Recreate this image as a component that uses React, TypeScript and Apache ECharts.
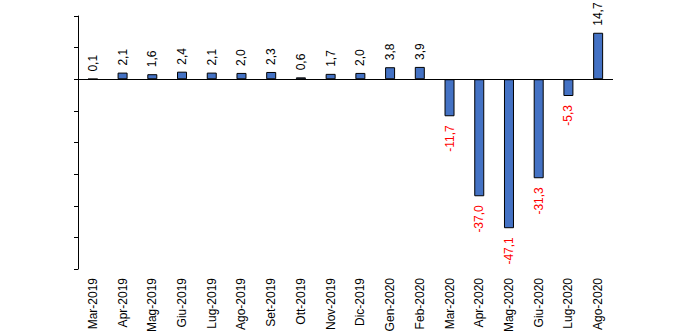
import React, { useEffect, useRef } from "react";
import * as echarts from "echarts";

const categories = [
  "Mar-2019", "Apr-2019", "Mag-2019", "Giu-2019", "Lug-2019", "Ago-2019",
  "Set-2019", "Ott-2019", "Nov-2019", "Dic-2019", "Gen-2020", "Feb-2020",
  "Mar-2020", "Apr-2020", "Mag-2020", "Giu-2020", "Lug-2020", "Ago-2020",
];
const values = [
  0.1, 2.1, 1.6, 2.4, 2.1, 2.0, 2.3, 0.6, 1.7, 2.0, 3.8, 3.9,
  -11.7, -37.0, -47.1, -31.3, -5.3, 14.7,
];
const yMin = -60;
const yMax = 20;
const yInterval = 10;

const fmt = (v: number) => v.toFixed(1).replace(".", ",");

export default function App() {
  const ref = useRef<HTMLDivElement>(null);
  useEffect(() => {
    if (!ref.current) return;
    const chart = echarts.init(ref.current, null, { renderer: "svg" });
    const font = "'Liberation Sans', Arial, sans-serif";
    chart.setOption({
      animation: false,
      grid: { left: 78, right: 87, top: 16, bottom: 67, containLabel: false },
      xAxis: {
        type: "category",
        data: categories,
        position: "bottom",
        axisLine: { show: false, onZero: false },
        axisTick: { show: false },
        axisLabel: {
          rotate: 90,
          interval: 0,
          margin: 9,
          color: "#000",
          fontSize: 12,
          fontFamily: font,
        },
      },
      yAxis: {
        type: "value",
        min: yMin,
        max: yMax,
        interval: yInterval,
        axisLine: { show: true, lineStyle: { color: "#000", width: 1 } },
        axisTick: { show: true, length: 4, lineStyle: { color: "#000" } },
        axisLabel: { show: false },
        splitLine: { show: false },
      },
      series: [
        {
          type: "bar",
          barWidth: 10,
          data: values.map((v) => ({
            value: v,
            label: {
              show: true,
              position: v >= 0 ? "top" : "bottom",
              rotate: 90,
              align: v >= 0 ? "left" : "right",
              verticalAlign: "middle",
              distance: v >= 0 ? 7 : 9,
              overflow: "none",
              color: v >= 0 ? "#000" : "#FF0000",
              fontSize: 12,
              fontFamily: font,
              formatter: () => fmt(v),
            },
          })),
          labelLayout: { hideOverlap: false, moveOverlap: undefined },
          itemStyle: { color: "#4472C4", borderColor: "#000", borderWidth: 1 },
          markLine: {
            silent: true,
            symbol: "none",
            label: { show: false },
            lineStyle: { color: "#000", width: 1, type: "solid" },
            data: [{ yAxis: 0 }],
          },
        },
      ],
    });
    return () => chart.dispose();
  }, []);
  return (
    <div style={{ position: "absolute", left: 0, top: 0 }}>
      <div ref={ref} style={{ width: 700, height: 336 }} />
    </div>
  );
}
